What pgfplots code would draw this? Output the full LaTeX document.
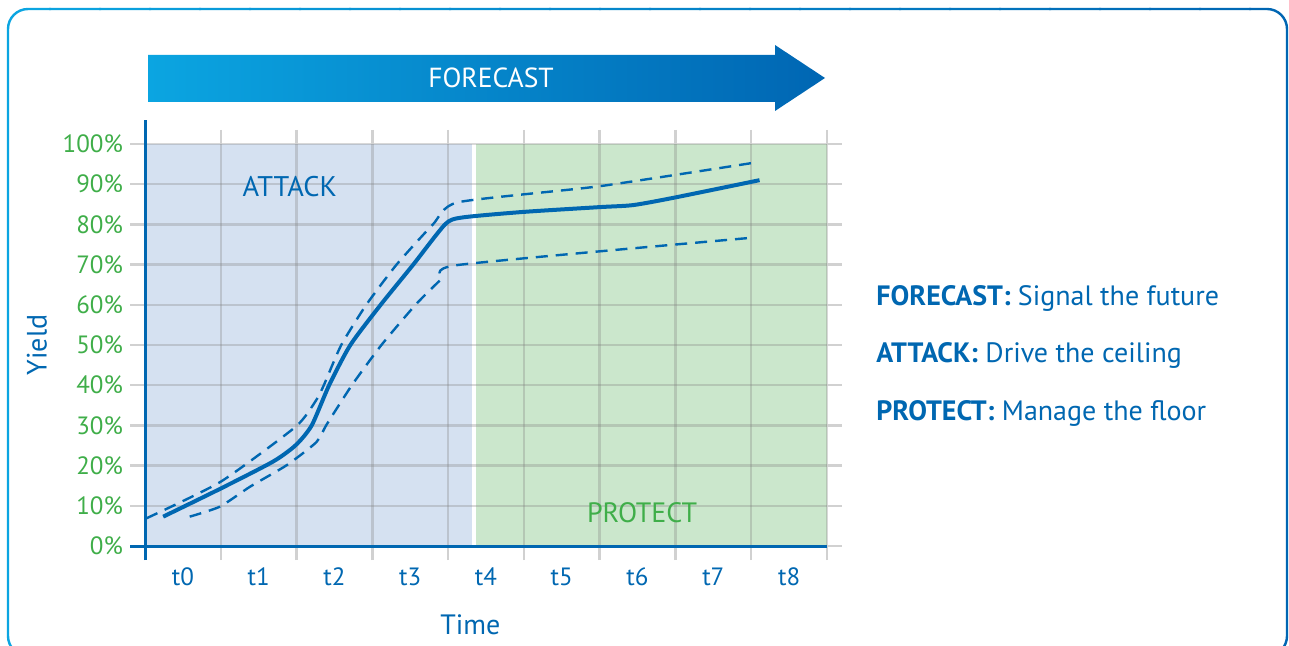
\documentclass[border=0pt]{standalone}
\usepackage{pgfplots}
\pgfplotsset{compat=1.18}
\usepackage{fontspec}
\setmainfont{PT Sans}
\definecolor{tblue}{HTML}{0067B1}
\definecolor{tgreen}{HTML}{3FAE49}
\definecolor{fillblue}{HTML}{D5E1F1}
\definecolor{fillgreen}{HTML}{CBE7CC}
\definecolor{arrL}{HTML}{0BA5E1}
\definecolor{arrR}{HTML}{0066B3}
\definecolor{gridc}{HTML}{7F7F7F}
\begin{document}
\begin{tikzpicture}
\begin{scope}[x=0.5pt,y=-0.5pt]
\path[use as bounding box] (0,0) rectangle (1289,646);
\foreach \i in {0,...,25}{
  \pgfmathsetmacro\p{100*\i/25}
  \begin{scope}
    \clip (\i*50-1,-10) rectangle (\i*50+51,700);
    \draw[color=arrR!\p!arrL, line width=1.2pt, rounded corners=10pt] (8,9) rectangle (1287,656);
  \end{scope}
}
\shade[left color=arrL, right color=arrR] (148,55) -- (775,55) -- (775,45) -- (825,78) -- (775,111) -- (775,102) -- (148,102) -- cycle;
\node[white, font=\fontsize{13.8}{15}\selectfont] at (491,78) {FORECAST};
\node[anchor=base west, inner sep=0pt, tblue, font=\fontsize{14}{16}\selectfont] at (876,306) {\textbf{FORECAST:} Signal the future};
\node[anchor=base west, inner sep=0pt, tblue, font=\fontsize{14}{16}\selectfont] at (876,363) {\textbf{ATTACK:} Drive the ceiling};
\node[anchor=base west, inner sep=0pt, tblue, font=\fontsize{14}{16}\selectfont] at (876,420) {\textbf{PROTECT:} Manage the floor};
\end{scope}
\begin{axis}[
  at={(72.5pt,-273pt)}, anchor=south west,
  scale only axis, width=341pt, height=201pt,
  xmin=0, xmax=9, ymin=0, ymax=100,
  set layers, clip=false,
  axis line style={draw=none},
  xtick={0.5,1.5,...,8.5}, xticklabels={t0,t1,t2,t3,t4,t5,t6,t7,t8},
  minor xtick={0,1,...,9},
  ytick={0,10,...,100},
  yticklabel={\pgfmathprintnumber[assume math mode=true]{\tick}\%},
  xminorgrids, ymajorgrids,
  grid style={draw=gridc, draw opacity=0.3, line width=1.2pt},
  minor grid style={draw=gridc, draw opacity=0.3, line width=1.2pt},
  major grid style={draw=gridc, draw opacity=0.3, line width=1.2pt},
  tick align=outside,
  major tick length=7.5pt, minor tick length=7pt,
  every tick/.style={draw=black!18, line width=1.2pt},
  major x tick style={draw=none},
  xticklabel style={tblue, font=\fontsize{12.5}{14}\selectfont},
  yticklabel style={tgreen, font=\fontsize{12.5}{14}\selectfont},
  xlabel={Time}, ylabel={Yield},
  xlabel style={at={(axis description cs:0.477,0)}, anchor=center, yshift=-39.5pt, tblue, font=\fontsize{14}{16}\selectfont},
  ylabel style={at={(axis description cs:-0.1584,0.5)}, anchor=center, tblue, font=\fontsize{14}{16}\selectfont},
]
\begin{pgfonlayer}{axis background}
\fill[fillblue] (axis cs:0,0) rectangle (axis cs:4.31,100);
\fill[fillgreen] (axis cs:4.37,0) rectangle (axis cs:9,100);
\end{pgfonlayer}
\addplot[tblue, line width=2pt, smooth, tension=0.4] coordinates {
(0.24,7.3) (1.00,14.3) (1.69,21.0) (1.99,25.1) (2.20,30.0) (2.43,40.0) (2.71,50.0)
(3.11,60.0) (3.54,70.0) (3.96,80.0) (4.18,81.7) (4.99,83.1) (6.00,84.3)
(6.44,84.8) (6.97,86.6) (8.11,91.0)};
\addplot[tblue, line width=1.2pt, dash pattern=on 6pt off 4pt, smooth, tension=0.35] coordinates {
(0.02,6.9) (1.00,16.0) (1.99,29.7) (2.26,36.3) (2.36,40.0) (2.59,50.0) (2.92,60.0)
(3.32,70.0) (3.80,80.0) (4.13,85.5) (6.00,89.5) (8.09,95.5)};
\addplot[tblue, line width=1.2pt, dash pattern=on 6pt off 4pt, smooth, tension=0.35] coordinates {
(0.59,7.3) (0.99,9.8) (1.39,14.8) (1.87,20.1) (2.26,25.8) (2.40,30.3) (2.73,40.0)
(3.12,50.0) (3.57,60.0) (3.90,66.2) (4.13,69.9) (7.96,76.6)};
\node[tblue, font=\fontsize{14.2}{16}\selectfont] at (axis cs:1.91,89.3) {ATTACK};
\node[tgreen, font=\fontsize{14}{16}\selectfont] at (axis cs:6.56,8.2) {PROTECT};
\draw[tblue, line width=1.5pt] ([yshift=-7pt]rel axis cs:0,0) -- ([yshift=12pt]rel axis cs:0,1);
\draw[tblue, line width=1.5pt] ([xshift=-7.5pt]rel axis cs:0,0) -- (rel axis cs:1,0);
\end{axis}
\end{tikzpicture}
\end{document}
